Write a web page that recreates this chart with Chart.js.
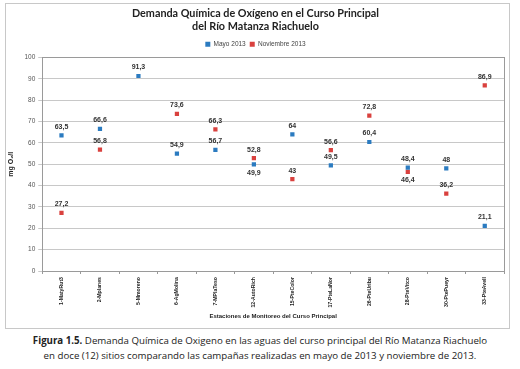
<!DOCTYPE html>
<html><head><meta charset="utf-8">
<script src="https://cdn.jsdelivr.net/npm/chart.js@4/dist/chart.umd.min.js"></script>
<style>
html,body{margin:0;padding:0;background:#fff;width:520px;height:369px;overflow:hidden;}
#frame{position:absolute;left:5px;top:3px;width:505px;height:326px;border:1px solid #c8c8c8;box-sizing:border-box;}
#c{position:absolute;left:0;top:0;}
#cap{position:absolute;left:0;top:333px;width:520px;text-align:center;font-family:"Open Sans",sans-serif;font-size:9.7px;line-height:15px;color:#222;}
</style></head>
<body>
<div id="frame"><canvas id="c" width="503" height="324"></canvas></div>
<div id="cap"><b>Figura 1.5.</b> Demanda Química de Oxigeno en las aguas del curso principal del Río Matanza Riachuelo<br>en doce (12) sitios comparando las campañas realizadas en mayo de 2013 y noviembre de 2013.</div>
<script>
const categories = ["1-MatyRut3","2-Mplanes","5-Mmoreno","6-AgMolina","7-MPlaTeso","12-AutoRich","15-PteColor","17-PteLaNor","26-PteUribu","28-PteVitco","30-PtePueyr","33-PteAvell"];
const mayo2013 = [63.5, 66.6, 91.3, 54.9, 56.7, 49.9, 64, 49.5, 60.4, 48.4, 48, 21.1];
const noviembre2013 = [27.2, 56.8, null, 73.6, 66.3, 52.8, 43, 56.6, 72.8, 46.4, 36.2, 86.9];
const mayoLabelPos = ["a","a","a","a","a","b","a","a","a","a","a","a"];
const novLabelPos = ["a","a","a","a","a","a","a","a","a","b","a","a"];
const yTicks = [0,10,20,30,40,50,60,70,80,90,100];

const fmt = v => String(v).replace('.', ',');

const labelPlugin = {
  id: 'dlabels',
  afterDatasetsDraw(chart) {
    const ctx = chart.ctx;
    ctx.save();
    ctx.font = 'bold 7px "Liberation Sans", sans-serif';
    ctx.fillStyle = '#333';
    ctx.textAlign = 'center';
    chart.data.datasets.forEach((ds, di) => {
      const meta = chart.getDatasetMeta(di);
      const pos = di === 0 ? mayoLabelPos : novLabelPos;
      meta.data.forEach((pt, i) => {
        const v = ds.data[i];
        if (v === null || v === undefined) return;
        if (pos[i] === 'b') {
          ctx.textBaseline = 'top';
          ctx.fillText(fmt(v), pt.x, pt.y + 5);
        } else {
          ctx.textBaseline = 'bottom';
          ctx.fillText(fmt(v), pt.x, pt.y - 5);
        }
      });
    });
    ctx.restore();
  }
};
const boxPlugin = {
  id: 'box',
  afterDraw(chart) {
    const a = chart.chartArea, ctx = chart.ctx;
    ctx.save();
    ctx.strokeStyle = '#9a9a9a';
    ctx.lineWidth = 1;
    ctx.strokeRect(Math.round(a.left)+0.5, Math.round(a.top)+0.5, Math.round(a.right-a.left), Math.round(a.bottom-a.top));
    ctx.restore();
  }
};

new Chart(document.getElementById('c'), {
  type: 'line',
  data: {
    labels: categories,
    datasets: [
      {label: 'Mayo 2013', data: mayo2013, showLine: false, pointStyle: 'rect', pointRadius: 3, pointHoverRadius: 3,
       backgroundColor: '#2b7bc0', borderColor: '#2b7bc0', borderWidth: 0},
      {label: 'Noviembre 2013', data: noviembre2013, showLine: false, pointStyle: 'rect', pointRadius: 3, pointHoverRadius: 3,
       backgroundColor: '#d9413e', borderColor: '#d9413e', borderWidth: 0}
    ]
  },
  options: {
    responsive: false,
    animation: false,
    events: [],
    layout: {padding: {left: 1, right: 5, top: 0, bottom: 8}},
    plugins: {
      title: {display: true, text: ['Demanda Química de Oxígeno en el Curso Principal','del Río Matanza Riachuelo'],
        font: {family: 'Lato, sans-serif', size: 10.8, weight: 'bold'}, color: '#222', padding: {top: 3, bottom: 4}, lineHeight: 1.55},
      legend: {display: true, position: 'top', labels: {boxWidth: 5, boxHeight: 5, padding: 4,
        font: {family: '"Liberation Sans", sans-serif', size: 6.5}, color: '#444'}},
      tooltip: {enabled: false}
    },
    scales: {
      x: {
        offset: true,
        afterFit: s => { s.height = 49; },
        grid: {offset: true, drawOnChartArea: false, drawTicks: true, tickLength: 3, color: '#999'},
        border: {color: '#999'},
        ticks: {minRotation: 90, maxRotation: 90, autoSkip: false, padding: 3,
          font: {family: '"Liberation Sans", sans-serif', size: 5.2, weight: 'bold'}, color: '#222'},
        title: {display: true, text: 'Estaciones de Monitoreo del Curso Principal',
          font: {family: '"Liberation Sans", sans-serif', size: 6, weight: 'bold'}, color: '#222', padding: {top: 2, bottom: 0}}
      },
      y: {
        min: 0, max: 100,
        afterBuildTicks: s => { s.ticks = yTicks.map(v => ({value: v})); },
        grid: {color: '#c8c8c8', tickLength: 4},
        border: {color: '#999'},
        ticks: {font: {family: '"Liberation Sans", sans-serif', size: 6.5}, color: '#555', padding: 3},
        title: {display: true, text: 'mg O\u2082/l', font: {family: '"Liberation Sans", sans-serif', size: 7, weight: 'bold'}, color: '#222', padding: {top: 0, bottom: 6}}
      }
    }
  },
  plugins: [labelPlugin, boxPlugin]
});
</script>
</body></html>
